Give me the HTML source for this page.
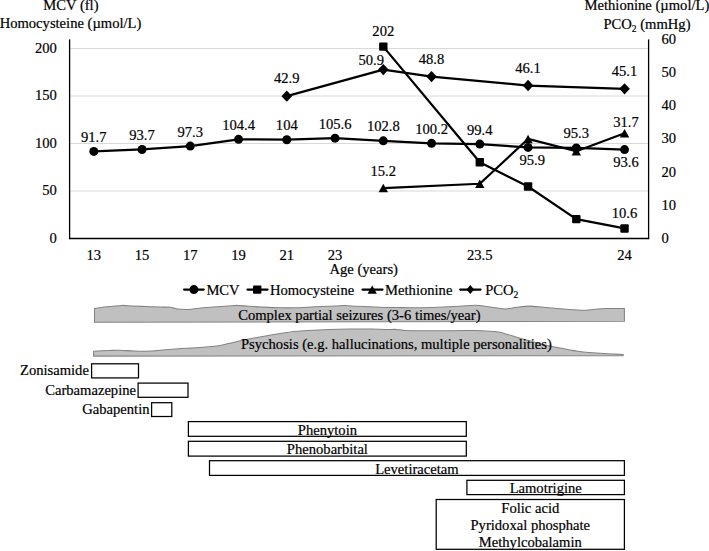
<!DOCTYPE html>
<html><head><meta charset="utf-8"><style>
html,body{margin:0;padding:0;background:#fff;}
svg{display:block;}
text{font-family:"Liberation Serif",serif;font-size:14.6px;fill:#000;stroke:#000;stroke-width:0.2px;}
</style></head><body>
<svg width="709" height="551" viewBox="0 0 709 551">
<line x1="70.3" y1="191.00" x2="647.8" y2="191.00" stroke="#d9d9d9" stroke-width="1"/>
<line x1="70.3" y1="143.50" x2="647.8" y2="143.50" stroke="#d9d9d9" stroke-width="1"/>
<line x1="70.3" y1="96.00" x2="647.8" y2="96.00" stroke="#d9d9d9" stroke-width="1"/>
<line x1="70.3" y1="48.50" x2="647.8" y2="48.50" stroke="#d9d9d9" stroke-width="1"/>
<line x1="69.6" y1="39.4" x2="69.6" y2="239.1" stroke="#000" stroke-width="1.3"/>
<line x1="648.6" y1="39.4" x2="648.6" y2="239.1" stroke="#000" stroke-width="1.3"/>
<line x1="69" y1="238.5" x2="649.2" y2="238.5" stroke="#000" stroke-width="1.3"/>
<polyline points="286.80,96.16 383.30,69.61 431.55,76.58 528.05,85.54 624.55,88.86" fill="none" stroke="#000" stroke-width="2.25" stroke-linejoin="round"/>
<polyline points="383.30,188.07 479.80,183.75 528.05,138.96 576.30,151.24 624.55,133.32" fill="none" stroke="#000" stroke-width="2.25" stroke-linejoin="round"/>
<polyline points="383.30,46.60 479.80,162.31 528.05,186.53 576.30,219.12 624.55,228.43" fill="none" stroke="#000" stroke-width="2.25" stroke-linejoin="round"/>
<polyline points="93.80,151.38 142.05,149.49 190.30,146.06 238.55,139.32 286.80,139.70 335.05,138.18 383.30,140.84 431.55,143.31 479.80,144.07 528.05,147.39 576.30,147.97 624.55,149.58" fill="none" stroke="#000" stroke-width="2.25" stroke-linejoin="round"/>
<polygon points="286.80,90.46 292.10,96.16 286.80,101.86 281.50,96.16" fill="#000"/>
<polygon points="383.30,63.91 388.60,69.61 383.30,75.31 378.00,69.61" fill="#000"/>
<polygon points="431.55,70.88 436.85,76.58 431.55,82.28 426.25,76.58" fill="#000"/>
<polygon points="528.05,79.84 533.35,85.54 528.05,91.24 522.75,85.54" fill="#000"/>
<polygon points="624.55,83.16 629.85,88.86 624.55,94.56 619.25,88.86" fill="#000"/>
<polygon points="383.30,183.87 388.00,192.27 378.60,192.27" fill="#000"/>
<polygon points="479.80,179.55 484.50,187.95 475.10,187.95" fill="#000"/>
<polygon points="528.05,134.76 532.75,143.16 523.35,143.16" fill="#000"/>
<polygon points="576.30,147.04 581.00,155.44 571.60,155.44" fill="#000"/>
<polygon points="624.55,129.12 629.25,137.52 619.85,137.52" fill="#000"/>
<rect x="379.10" y="42.40" width="8.4" height="8.4" rx="1" fill="#000"/>
<rect x="475.60" y="158.11" width="8.4" height="8.4" rx="1" fill="#000"/>
<rect x="523.85" y="182.34" width="8.4" height="8.4" rx="1" fill="#000"/>
<rect x="572.10" y="214.92" width="8.4" height="8.4" rx="1" fill="#000"/>
<rect x="620.35" y="224.23" width="8.4" height="8.4" rx="1" fill="#000"/>
<circle cx="93.80" cy="151.38" r="4.5" fill="#000"/>
<circle cx="142.05" cy="149.49" r="4.5" fill="#000"/>
<circle cx="190.30" cy="146.06" r="4.5" fill="#000"/>
<circle cx="238.55" cy="139.32" r="4.5" fill="#000"/>
<circle cx="286.80" cy="139.70" r="4.5" fill="#000"/>
<circle cx="335.05" cy="138.18" r="4.5" fill="#000"/>
<circle cx="383.30" cy="140.84" r="4.5" fill="#000"/>
<circle cx="431.55" cy="143.31" r="4.5" fill="#000"/>
<circle cx="479.80" cy="144.07" r="4.5" fill="#000"/>
<circle cx="528.05" cy="147.39" r="4.5" fill="#000"/>
<circle cx="576.30" cy="147.97" r="4.5" fill="#000"/>
<circle cx="624.55" cy="149.58" r="4.5" fill="#000"/>
<line x1="184.1" y1="289.6" x2="203.7" y2="289.6" stroke="#000" stroke-width="2.25" stroke-linecap="round"/>
<circle cx="193.90" cy="289.60" r="4.5" fill="#000"/>
<line x1="247.5" y1="289.6" x2="267.5" y2="289.6" stroke="#000" stroke-width="2.25" stroke-linecap="round"/>
<rect x="253.00" y="285.40" width="8.4" height="8.4" rx="1" fill="#000"/>
<line x1="362.5" y1="289.6" x2="382.5" y2="289.6" stroke="#000" stroke-width="2.25" stroke-linecap="round"/>
<polygon points="372.20,285.40 376.90,293.80 367.50,293.80" fill="#000"/>
<line x1="460.2" y1="289.6" x2="480.5" y2="289.6" stroke="#000" stroke-width="2.25" stroke-linecap="round"/>
<polygon points="470.30,285.10 474.10,289.60 470.30,294.10 466.50,289.60" fill="#000"/>
<path d="M94.50,308.50 C96.10,308.27 101.08,307.48 104.10,307.10 C107.12,306.72 109.55,306.48 112.60,306.20 C115.65,305.92 119.12,305.45 122.40,305.40 C125.68,305.35 128.30,305.70 132.30,305.90 C136.30,306.10 141.70,306.40 146.40,306.60 C151.10,306.80 156.50,306.98 160.50,307.10 C164.50,307.22 167.58,306.98 170.40,307.30 C173.22,307.62 174.35,308.65 177.40,309.00 C180.45,309.35 185.08,309.53 188.70,309.40 C192.32,309.27 195.02,308.58 199.10,308.20 C203.18,307.82 208.50,307.45 213.20,307.10 C217.90,306.75 223.18,306.38 227.30,306.10 C231.42,305.82 234.37,305.37 237.90,305.40 C241.43,305.43 244.38,306.02 248.50,306.30 C252.62,306.58 257.35,306.85 262.60,307.10 C267.85,307.35 274.75,307.68 280.00,307.80 C285.25,307.92 288.22,307.97 294.10,307.80 C299.98,307.63 308.25,307.12 315.30,306.80 C322.35,306.48 331.58,306.10 336.40,305.90 C341.22,305.70 340.67,305.53 344.20,305.60 C347.73,305.67 351.63,306.03 357.60,306.30 C363.57,306.57 373.57,307.00 380.00,307.20 C386.43,307.40 389.98,307.40 396.20,307.50 C402.42,307.60 410.25,307.83 417.30,307.80 C424.35,307.77 431.45,307.55 438.50,307.30 C445.55,307.05 453.42,306.65 459.60,306.30 C465.78,305.95 470.82,305.12 475.60,305.20 C480.38,305.28 483.35,306.18 488.30,306.80 C493.25,307.42 500.60,308.82 505.30,308.90 C510.00,308.98 512.52,307.77 516.50,307.30 C520.48,306.83 524.73,306.10 529.20,306.10 C533.67,306.10 538.60,306.90 543.30,307.30 C548.00,307.70 553.57,308.17 557.40,308.50 C561.23,308.83 562.00,309.02 566.30,309.30 C570.60,309.58 578.50,310.20 583.20,310.20 C587.90,310.20 590.73,309.58 594.50,309.30 C598.27,309.02 600.82,308.63 605.80,308.50 C610.78,308.37 621.30,308.50 624.40,308.50 L624.4,321.3 L94.5,322.3 Z" fill="#c0c0c0" stroke="#838383" stroke-width="1.05" stroke-linejoin="round"/>
<path d="M93.60,351.20 C96.20,351.08 104.73,350.67 109.20,350.50 C113.67,350.33 116.18,350.10 120.40,350.20 C124.62,350.30 129.32,350.98 134.50,351.10 C139.68,351.22 146.32,351.12 151.50,350.90 C156.68,350.68 160.02,350.23 165.60,349.80 C171.18,349.37 179.42,348.67 185.00,348.30 C190.58,347.93 194.17,347.93 199.10,347.60 C204.03,347.27 209.90,346.93 214.60,346.30 C219.30,345.67 222.83,344.77 227.30,343.80 C231.77,342.83 236.70,341.52 241.40,340.50 C246.10,339.48 250.80,338.58 255.50,337.70 C260.20,336.82 264.68,336.02 269.60,335.20 C274.52,334.38 280.92,333.40 285.00,332.80 C289.08,332.20 290.23,331.98 294.10,331.60 C297.97,331.22 302.32,330.85 308.20,330.50 C314.08,330.15 322.35,329.73 329.40,329.50 C336.45,329.27 343.45,329.17 350.50,329.10 C357.55,329.03 365.95,329.03 371.70,329.10 C377.45,329.17 380.92,329.45 385.00,329.50 C389.08,329.55 392.93,329.25 396.20,329.40 C399.47,329.55 399.90,330.18 404.60,330.40 C409.30,330.62 416.40,330.65 424.40,330.70 C432.40,330.75 444.17,330.73 452.60,330.70 C461.03,330.67 469.75,330.47 475.00,330.50 C480.25,330.53 480.23,330.63 484.10,330.90 C487.97,331.17 494.43,331.55 498.20,332.10 C501.97,332.65 503.17,333.22 506.70,334.20 C510.23,335.18 514.93,336.72 519.40,338.00 C523.87,339.28 528.80,340.65 533.50,341.90 C538.20,343.15 543.62,344.55 547.60,345.50 C551.58,346.45 553.67,346.87 557.40,347.60 C561.13,348.33 566.63,349.30 570.00,349.90 C573.37,350.50 574.45,350.77 577.60,351.20 C580.75,351.63 585.15,352.15 588.90,352.50 C592.65,352.85 596.35,353.07 600.10,353.30 C603.85,353.53 607.53,353.72 611.40,353.90 C615.27,354.08 621.32,354.32 623.30,354.40 L623.3,355.6 L93.6,356.1 Z" fill="#c0c0c0" stroke="#838383" stroke-width="1.05" stroke-linejoin="round"/>
<rect x="91.60" y="363.80" width="46.90" height="14.10" fill="#fff" stroke="#000" stroke-width="1.25"/>
<rect x="138.10" y="383.10" width="49.90" height="14.20" fill="#fff" stroke="#000" stroke-width="1.25"/>
<rect x="151.60" y="402.70" width="20.20" height="13.80" fill="#fff" stroke="#000" stroke-width="1.25"/>
<rect x="188.40" y="421.60" width="277.90" height="14.70" fill="#fff" stroke="#000" stroke-width="1.25"/>
<rect x="188.40" y="441.30" width="277.90" height="14.80" fill="#fff" stroke="#000" stroke-width="1.25"/>
<rect x="209.50" y="460.70" width="414.90" height="14.70" fill="#fff" stroke="#000" stroke-width="1.25"/>
<rect x="466.90" y="480.30" width="157.50" height="14.30" fill="#fff" stroke="#000" stroke-width="1.25"/>
<rect x="436.20" y="499.50" width="188.20" height="49.80" fill="#fff" stroke="#000" stroke-width="1.25"/>
<text x="93.80" y="141.88" text-anchor="middle">91.7</text>
<text x="142.05" y="139.99" text-anchor="middle">93.7</text>
<text x="190.30" y="136.56" text-anchor="middle">97.3</text>
<text x="238.55" y="129.82" text-anchor="middle">104.4</text>
<text x="286.80" y="130.20" text-anchor="middle">104</text>
<text x="335.05" y="128.68" text-anchor="middle">105.6</text>
<text x="383.30" y="131.34" text-anchor="middle">102.8</text>
<text x="431.55" y="133.81" text-anchor="middle">100.2</text>
<text x="479.80" y="134.57" text-anchor="middle">99.4</text>
<text x="532.25" y="164.59" text-anchor="middle">95.9</text>
<text x="576.30" y="138.47" text-anchor="middle">95.3</text>
<text x="626.05" y="166.78" text-anchor="middle">93.6</text>
<text x="383.30" y="36.40" text-anchor="middle">202</text>
<text x="624.55" y="217.63" text-anchor="middle">10.6</text>
<text x="383.30" y="176.27" text-anchor="middle">15.2</text>
<text x="626.05" y="126.82" text-anchor="middle">31.7</text>
<text x="286.80" y="83.36" text-anchor="middle">42.9</text>
<text x="371.20" y="65.10" text-anchor="middle">50.9</text>
<text x="431.55" y="63.58" text-anchor="middle">48.8</text>
<text x="528.05" y="72.74" text-anchor="middle">46.1</text>
<text x="624.55" y="75.76" text-anchor="middle">45.1</text>
<text x="56.80" y="242.90" text-anchor="end">0</text>
<text x="56.80" y="195.40" text-anchor="end">50</text>
<text x="56.80" y="147.90" text-anchor="end">100</text>
<text x="56.80" y="100.40" text-anchor="end">150</text>
<text x="56.80" y="52.90" text-anchor="end">200</text>
<text x="661.40" y="242.90" text-anchor="start">0</text>
<text x="661.40" y="209.72" text-anchor="start">10</text>
<text x="661.40" y="176.54" text-anchor="start">20</text>
<text x="661.40" y="143.36" text-anchor="start">30</text>
<text x="661.40" y="110.18" text-anchor="start">40</text>
<text x="661.40" y="77.00" text-anchor="start">50</text>
<text x="661.40" y="43.82" text-anchor="start">60</text>
<text x="93.80" y="260.30" text-anchor="middle">13</text>
<text x="142.05" y="260.30" text-anchor="middle">15</text>
<text x="190.30" y="260.30" text-anchor="middle">17</text>
<text x="238.55" y="260.30" text-anchor="middle">19</text>
<text x="286.80" y="260.30" text-anchor="middle">21</text>
<text x="335.05" y="260.30" text-anchor="middle">23</text>
<text x="479.80" y="260.30" text-anchor="middle">23.5</text>
<text x="624.55" y="260.30" text-anchor="middle">24</text>
<text x="363.70" y="273.70" text-anchor="middle">Age (years)</text>
<text x="70.90" y="10.40" text-anchor="middle">MCV (fl)</text>
<text x="70.50" y="28.10" text-anchor="middle">Homocysteine (µmol/L)</text>
<text x="646.90" y="9.90" text-anchor="middle">Methionine (µmol/L)</text>
<text x="647.00" y="28.60" text-anchor="middle">PCO<tspan font-size="9.5" dy="3">2</tspan><tspan dy="-3"> (mmHg)</tspan></text>
<text x="206.40" y="294.70" text-anchor="start">MCV</text>
<text x="269.90" y="294.70" text-anchor="start">Homocysteine</text>
<text x="385.10" y="294.70" text-anchor="start">Methionine</text>
<text x="485.20" y="294.70" text-anchor="start">PCO<tspan font-size="9.5" dy="3">2</tspan></text>
<text x="238.20" y="319.50" text-anchor="start">Complex partial seizures (3-6 times/year)</text>
<text x="241.00" y="348.90" text-anchor="start">Psychosis (e.g. hallucinations, multiple personalities)</text>
<text x="88.90" y="375.00" text-anchor="end">Zonisamide</text>
<text x="136.00" y="394.60" text-anchor="end">Carbamazepine</text>
<text x="149.50" y="414.40" text-anchor="end">Gabapentin</text>
<text x="327.40" y="434.60" text-anchor="middle">Phenytoin</text>
<text x="327.40" y="454.00" text-anchor="middle">Phenobarbital</text>
<text x="416.90" y="473.80" text-anchor="middle">Levetiracetam</text>
<text x="545.70" y="493.00" text-anchor="middle">Lamotrigine</text>
<text x="530.30" y="512.80" text-anchor="middle">Folic acid</text>
<text x="530.30" y="530.00" text-anchor="middle">Pyridoxal phosphate</text>
<text x="530.30" y="547.40" text-anchor="middle">Methylcobalamin</text>
</svg>
</body></html>
